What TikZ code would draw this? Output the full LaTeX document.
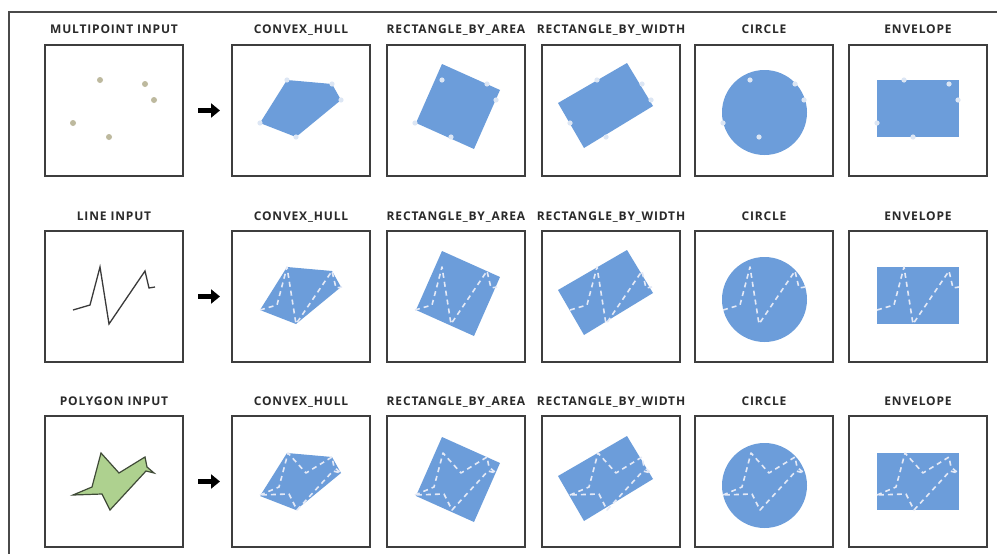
\documentclass[tikz,border=0pt]{standalone}
\usepackage{fontspec}
\newfontfamily\titlefont{Open Sans}[LetterSpace=7]
\usetikzlibrary{arrows.meta}
\definecolor{boxgray}{HTML}{3E3E3E}
\definecolor{framegray}{HTML}{4A4A4A}
\definecolor{titlegray}{HTML}{2A2A2A}
\definecolor{shapeblue}{HTML}{6C9DDA}
\definecolor{dotwhite}{HTML}{DCE6F4}
\definecolor{dashwhite}{HTML}{E4E9F6}
\definecolor{ptcol}{HTML}{BDB99E}
\definecolor{polyfill}{HTML}{AED18F}
\definecolor{polyline}{HTML}{3F4A37}
\definecolor{linecol}{HTML}{3A3A3A}
% input drawings
\def\inputone{\foreach \p in {(55,35),(100,39),(109,55),(28,78),(64,92)} \fill[ptcol] \p circle (3pt);}
\def\inputtwo{\draw[linecol, line width=1.3pt, line join=miter] (28,78) -- (45,73) -- (55,35) -- (64,92) -- (100,39) -- (104,56) -- (110,55);}
\def\inputthree{\filldraw[fill=polyfill, draw=polyline, line width=1.2pt, line join=miter] (28,77) -- (47,69) -- (56,35) -- (74,55) -- (100,39) -- (102,49) -- (109,55) -- (101,53) -- (65,92) -- (57,76) -- cycle;}
% overlays
\def\ovlone{\foreach \p in {(55,35),(100,39),(109,55),(28,78),(64,92)} \fill[dotwhite] \p circle (2.6pt);}
\def\ovltwo{\draw[ovl] (28,78) -- (45,73) -- (55,35) -- (64,92) -- (100,39) -- (104,56) -- (110,55);}
\def\ovlthree{\draw[ovl] (28,77) -- (47,69) -- (56,35) -- (74,55) -- (100,39) -- (102,49) -- (109,55) -- (101,53) -- (65,92) -- (57,76) -- cycle;}
% output shapes
\def\outtwo{\fill[shapeblue] (55,35) -- (100,39) -- (109,55) -- (64,92) -- (28,78) -- cycle;}
\def\outthree{\fill[shapeblue] (55,19) -- (113,45) -- (87,104) -- (29,78) -- cycle;}
\def\outfour{\fill[shapeblue] (16,58) -- (85,18) -- (111,61) -- (42,103) -- cycle;}
\def\outfive{\fill[shapeblue] (69.5,67.5) circle (42.5pt);}
\def\outsix{\fill[shapeblue] (28,35) rectangle (110,92);}
\begin{document}
\begin{tikzpicture}[x=1pt,y=-1pt,
  panel/.style={draw=boxgray, line width=1.8pt, minimum width=138pt, minimum height=131pt, inner sep=0pt, outer sep=0pt, anchor=north west},
  ttl/.style={font=\titlefont\bfseries\fontsize{12}{14}\selectfont, text=titlegray, anchor=base, inner sep=0pt},
  ovl/.style={draw=dashwhite, line width=1.6pt, dash pattern=on 5pt off 4pt, line join=round},
  blockarrow/.style={line width=5pt, -{Triangle[length=9pt,width=14pt]}, shorten <=15pt, shorten >=12pt}
]
\useasboundingbox (0,0) rectangle (997,554);
\fill[white] (0,0) rectangle (997,554);
\draw[framegray, line width=2pt] (9,570) -- (9,12) -- (1010,12);
\foreach \rw/\ty/\dy/\intitle/\num in {1/45/0/MULTIPOINT INPUT/one, 2/231/1/LINE INPUT/two, 3/416/2/POLYGON INPUT/three}{
  % input panel
  \node[panel] (b\rw1) at (45,\ty) {};
  \node[ttl] (t\rw1) at (114,{\ty-11}) {\intitle};
  \begin{scope}[shift={(45,{\ty+\dy})}]
    \csname input\num\endcsname
  \end{scope}
  \foreach \cl/\x/\cname/\shp in {2/232/CONVEX\_HULL/two, 3/387/RECTANGLE\_BY\_AREA/three, 4/542/RECTANGLE\_BY\_WIDTH/four, 5/695/CIRCLE/five, 6/849/ENVELOPE/six}{
    \node[panel] (b\rw\cl) at (\x,\ty) {};
    \node[ttl] (t\rw\cl) at ({\x+69},{\ty-11}) {\cname};
    \begin{scope}[shift={(\x,{\ty+\dy})}]
      \csname out\shp\endcsname
      \csname ovl\num\endcsname
    \end{scope}
  }
  \draw[blockarrow] (b\rw1.east) -- (b\rw2.west);
}
\end{tikzpicture}
\end{document}
